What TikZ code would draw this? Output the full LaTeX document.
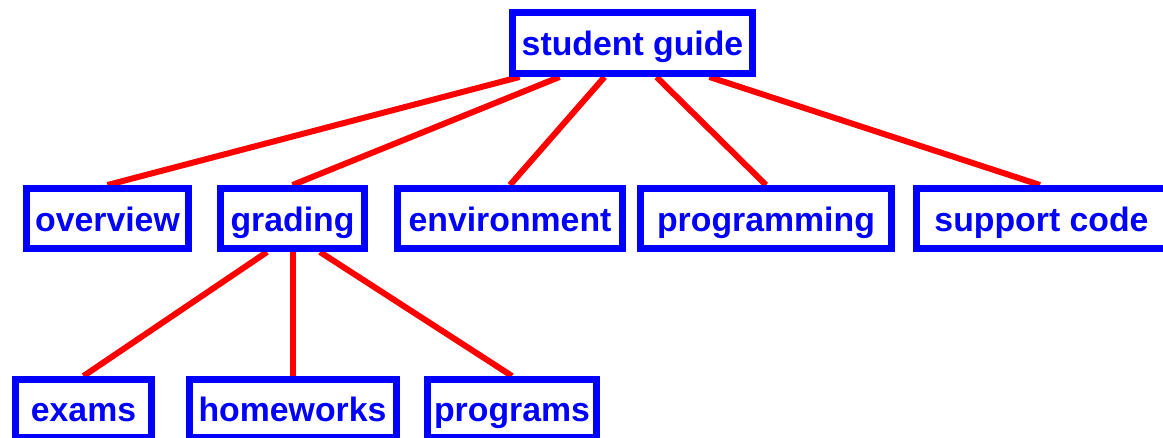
\documentclass[tikz,border=0pt]{standalone}
\usepackage{fontspec}
\setmainfont{Liberation Sans}
\usetikzlibrary{calc,backgrounds}
\definecolor{boxblue}{RGB}{0,0,255}
\definecolor{edgered}{RGB}{255,0,0}
\tikzset{
  box/.style={draw=boxblue, line width=7pt, fill=white, inner sep=0pt,
    text=boxblue, font=\fontsize{33.8}{36}\selectfont\bfseries,
    text height=25pt, text depth=0pt, align=center},
  link/.style={draw=edgered, line width=6pt}
}
\begin{document}
\begin{tikzpicture}[x=1pt,y=-1pt]
\useasboundingbox (0,0) rectangle (1163,437);
\clip (0,0) rectangle (1163,437);
% nodes
\node[box, minimum width=240pt, minimum height=61pt] (root) at (632.5,43) {student guide};
\node[box, minimum width=162pt, minimum height=60pt] (overview) at (107.5,218.5) {overview};
\node[box, minimum width=144pt, minimum height=60pt] (grading) at (292.5,218.5) {grading};
\node[box, minimum width=225pt, minimum height=60pt] (environment) at (510,218.5) {environment};
\node[box, minimum width=251pt, minimum height=60pt] (programming) at (766,218.5) {programming};
\node[box, minimum width=255pt, minimum height=60pt] (support) at (1044,218.5) {\hspace*{-5pt}support code};
\node[box, minimum width=136pt, minimum height=58pt] (exams) at (83.5,408.5) {exams};
\node[box, minimum width=207pt, minimum height=58pt] (homeworks) at (292.5,408.5) {homeworks};
\node[box, minimum width=169pt, minimum height=58pt] (programs) at (512,408.5) {programs};
% connectors
\begin{scope}[on background layer]
\draw[link] ($(root.south west)+(10.5,0)$) -- (overview.north);
\draw[link] ($(root.south west)+(50.5,0)$) -- (grading.north);
\draw[link] ($(root.south west)+(95.5,0)$) -- (environment.north);
\draw[link] ($(root.south west)+(147.5,0)$) -- (programming.north);
\draw[link] ($(root.south west)+(200.5,0)$) -- ($(support.north)+(-4,0)$);
\draw[link] ($(grading.south)+(-25.5,0)$) -- (exams.north);
\draw[link] (grading.south) -- (homeworks.north);
\draw[link] ($(grading.south)+(27.5,0)$) -- (programs.north);
\end{scope}
\end{tikzpicture}
\end{document}
